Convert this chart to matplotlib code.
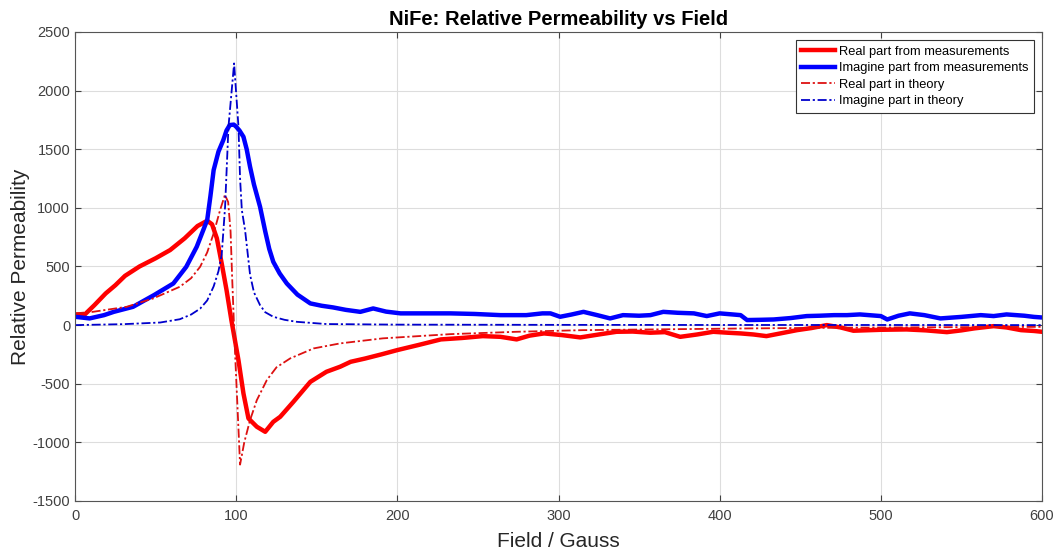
import numpy as np
import matplotlib
matplotlib.use('Agg')
import matplotlib.pyplot as plt

plt.rcParams['font.family'] = ['Liberation Sans', 'DejaVu Sans']
plt.rcParams['axes.unicode_minus'] = False

# measured real part
field_re = [0, 6, 12, 19, 25, 31, 40, 50, 59, 68,
            76, 82, 85, 88, 91, 94, 97, 101.4, 104.5, 107.6,
            112.8, 118, 123, 127.3, 135.5, 146, 156, 164.5, 171, 180,
            190, 200, 213, 227, 240, 253, 264, 274, 282, 291,
            302, 313.5, 325, 336, 346, 357, 366, 375.5, 386, 396,
            405, 413, 421, 429, 438, 448, 457, 466.5, 475, 483,
            500, 516, 528, 541, 550, 558, 570, 578, 587, 595,
            600]
mu_re = [90, 90, 170, 270, 340, 420, 500, 570, 640, 740,
         845, 890, 860, 740, 526, 299, 43, -299, -583, -796,
         -867, -910, -825, -782, -654, -484, -398, -355, -313, -285,
         -250, -213, -170, -122, -110, -94, -100, -122, -90, -71,
         -85, -105, -80, -57, -55, -65, -60, -100, -80, -57,
         -65, -71, -80, -94, -70, -43, -25, 0, -20, -48,
         -40, -37, -45, -60, -45, -28, -9, -20, -43, -50,
         -57]

# measured imaginary part
field_im = [0, 9, 18, 24, 36, 49, 61, 69, 75.5, 82,
            84, 86, 89, 92, 94, 96, 98.5, 100, 102, 104.5,
            106.5, 108.6, 111, 114.8, 118, 120.5, 123, 127, 131.4, 138,
            146, 153, 160, 168, 177, 185, 193, 202, 217, 233,
            248, 264, 280, 290, 295, 301, 308, 315.5, 324, 332,
            340, 350, 357, 365, 374, 384, 392, 400, 407, 413,
            417, 425, 433.5, 444, 454, 462, 471, 479, 487, 500,
            504, 511, 518, 527, 537, 550, 562, 570, 578, 589,
            595, 600]
mu_im = [71, 57, 85, 113, 156, 256, 355, 497, 668, 896,
         1100, 1322, 1480, 1578, 1660, 1706, 1710, 1692, 1660, 1606,
         1500, 1350, 1200, 1009, 800, 650, 540, 440, 355, 260,
         185, 165, 151, 130, 113, 142, 115, 100, 100, 100,
         95, 85, 85, 100, 100, 71, 90, 113, 85, 57,
         85, 80, 85, 113, 105, 100, 77, 100, 92, 85,
         43, 45, 48, 60, 77, 80, 85, 85, 91, 77,
         48, 80, 100, 85, 57, 70, 85, 77, 91, 80,
         70, 65]

# theory real part
field_th_re = [0, 11, 32, 48.6, 65, 72, 77.6, 82, 86, 90,
               93, 95, 96.5, 97.5, 99.3, 102.4, 105, 108.6, 112.8, 119,
               125, 133.5, 148, 164.5, 191, 233, 274, 315, 357, 420,
               480, 540, 600]
th_re = [100, 113, 156, 228, 327, 400, 497, 620, 782, 981,
         1110, 1050, 800, 400, -241, -1190, -1000, -810, -640, -469,
         -360, -284, -199, -156, -113, -77, -57, -43, -37, -28,
         -22, -18, -15]

# theory imaginary part
field_th_im = [0, 30, 52.8, 65, 72, 77.6, 82, 86, 89, 91,
               93.1, 95.2, 98.7, 101.4, 102.4, 103.5, 105.5, 108.6, 111, 114.8,
               118, 123, 130, 137.6, 156, 200, 300, 400, 500, 600]
th_im = [0, 8, 22, 50, 90, 140, 210, 330, 460, 600,
         1009, 1692, 2232, 1692, 1250, 981, 810, 430, 280, 170,
         110, 71, 45, 28, 9, 4, 2, 1, 1, 0]

fig = plt.figure(figsize=(10.6, 5.59), dpi=100)
ax = fig.add_axes([0.0708, 0.1038, 0.9122, 0.839])

dd = (5, 1.5, 1.2, 1.5)
ax.plot(field_re, mu_re, color='#ff0000', lw=3.2, label='Real part from measurements')
ax.plot(field_im, mu_im, color='#0000ff', lw=3.2, label='Imagine part from measurements')
ax.plot(field_th_re, th_re, '-.', dashes=dd, color='#dd1111', lw=1.3, label='Real part in theory')
ax.plot(field_th_im, th_im, '-.', dashes=dd, color='#0000cc', lw=1.3, label='Imagine part in theory')

ax.set_xlim(0, 600)
ax.set_ylim(-1500, 2500)
ax.set_xticks(np.arange(0, 601, 100))
ax.set_yticks(np.arange(-1500, 2501, 500))
ax.grid(True, color='#dddddd', lw=0.8)
ax.set_axisbelow(True)
ax.tick_params(direction='in', top=True, right=True, labelsize=10.5,
               colors='#404040', length=4)
ax.tick_params(axis='x', pad=6)
for s in ax.spines.values():
    s.set_color('#555555')
    s.set_linewidth(0.8)

ax.set_title('NiFe: Relative Permeability vs Field', fontsize=14.5,
             fontweight='bold', pad=5)
ax.set_xlabel('Field / Gauss', fontsize=15, color='#262626', labelpad=6)
ax.set_ylabel('Relative Permeability', fontsize=15, color='#262626', labelpad=2)

leg = ax.legend(loc='upper right', fontsize=9.3, fancybox=False, framealpha=1,
                edgecolor='#333333', handlelength=2.6, handletextpad=0.3,
                borderpad=0.45, labelspacing=0.35, borderaxespad=0.6)
leg.get_frame().set_linewidth(0.8)

fig.savefig('out.png', dpi=100)
